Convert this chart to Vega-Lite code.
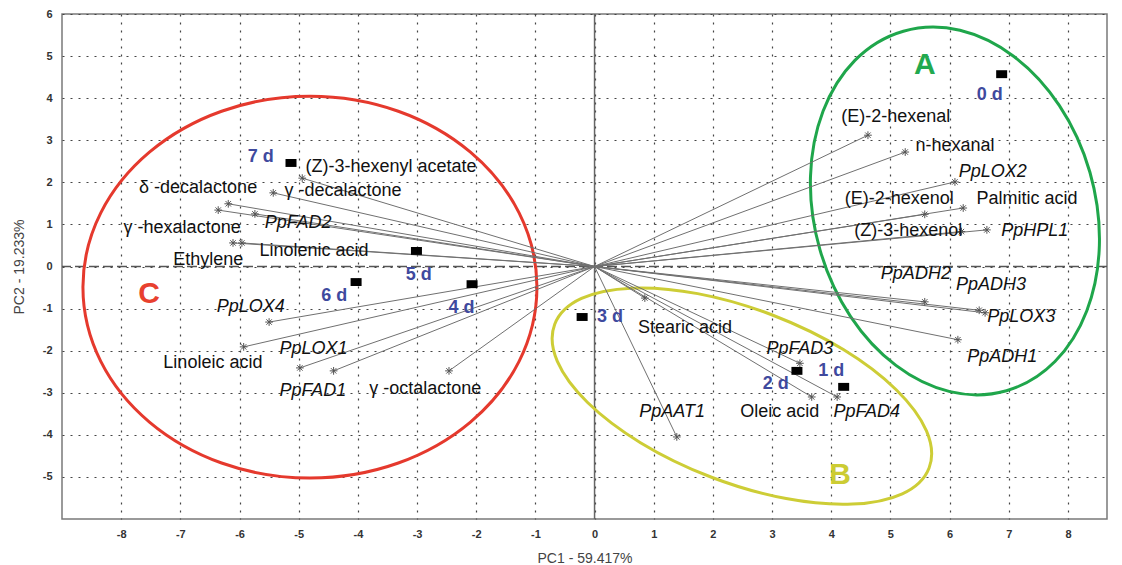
{
  "$schema": "https://vega.github.io/schema/vega-lite/v6.json",
  "width": 1045,
  "height": 505,
  "autosize": {"type": "none"},
  "padding": {"left": 62, "top": 14, "right": 15, "bottom": 46},
  "background": "white",
  "config": {
    "view": {"stroke": "#7a7a7a", "strokeWidth": 1.5},
    "font": "Liberation Sans"
  },
  "datasets": {
    "vars": [
      {"name": "(E)-2-hexenal", "x": 4.62, "y": 3.12},
      {"name": "n-hexanal", "x": 5.25, "y": 2.72},
      {"name": "PpLOX2", "x": 6.09, "y": 2.01},
      {"name": "Palmitic acid", "x": 6.23, "y": 1.39},
      {"name": "(E)-2-hexenol", "x": 5.58, "y": 1.24},
      {"name": "(Z)-3-hexenol", "x": 6.2, "y": 0.83},
      {"name": "PpHPL1", "x": 6.63, "y": 0.87},
      {"name": "PpADH2", "x": 5.58, "y": -0.84},
      {"name": "PpADH3", "x": 6.5, "y": -1.04},
      {"name": "PpLOX3", "x": 6.6, "y": -1.1},
      {"name": "PpADH1", "x": 6.14, "y": -1.74},
      {"name": "Stearic acid", "x": 0.85, "y": -0.75},
      {"name": "PpFAD3", "x": 3.47, "y": -2.3},
      {"name": "Oleic acid", "x": 3.67, "y": -3.1},
      {"name": "PpFAD4", "x": 4.1, "y": -3.1},
      {"name": "PpAAT1", "x": 1.39, "y": -4.05},
      {"name": "(Z)-3-hexenyl acetate", "x": -4.94, "y": 2.1},
      {"name": "γ-decalactone", "x": -5.43, "y": 1.75},
      {"name": "δ-decalactone", "x": -6.19, "y": 1.49},
      {"name": "γ-hexalactone", "x": -6.36, "y": 1.34},
      {"name": "PpFAD2", "x": -5.74, "y": 1.25},
      {"name": "Linolenic acid", "x": -5.96, "y": 0.56},
      {"name": "Ethylene", "x": -6.11, "y": 0.56},
      {"name": "PpLOX4", "x": -5.5, "y": -1.32},
      {"name": "Linoleic acid", "x": -5.93, "y": -1.91},
      {"name": "PpLOX1", "x": -4.98, "y": -2.41},
      {"name": "PpFAD1", "x": -4.41, "y": -2.48},
      {"name": "γ-octalactone", "x": -2.46, "y": -2.48}
    ],
    "samples": [
      {"day": "0 d", "x": 6.88, "y": 4.57},
      {"day": "1 d", "x": 4.21, "y": -2.86},
      {"day": "2 d", "x": 3.42, "y": -2.48},
      {"day": "3 d", "x": -0.21, "y": -1.2},
      {"day": "4 d", "x": -2.07, "y": -0.42},
      {"day": "5 d", "x": -3.01, "y": 0.37},
      {"day": "6 d", "x": -4.03, "y": -0.37},
      {"day": "7 d", "x": -5.13, "y": 2.46}
    ],
    "groups": [
      {"group": "A", "x": 6.09, "y": 1.32},
      {"group": "B", "x": 2.49, "y": -3.08},
      {"group": "C", "x": -4.81, "y": -0.49}
    ],
    "labels": [
      {"text": "(E)-2-hexenal", "kind": "compound", "x": 5.09, "y": 3.55},
      {"text": "n-hexanal", "kind": "compound", "x": 6.09, "y": 2.86},
      {"text": "(E)-2-hexenol", "kind": "compound", "x": 5.15, "y": 1.6},
      {"text": "Palmitic acid", "kind": "compound", "x": 7.31, "y": 1.6},
      {"text": "(Z)-3-hexenol", "kind": "compound", "x": 5.3, "y": 0.84},
      {"text": "Stearic acid", "kind": "compound", "x": 1.53, "y": -1.46},
      {"text": "Oleic acid", "kind": "compound", "x": 3.13, "y": -3.46},
      {"text": "(Z)-3-hexenyl acetate", "kind": "compound", "x": -3.44, "y": 2.36},
      {"text": "δ -decalactone", "kind": "compound", "x": -6.7, "y": 1.87},
      {"text": "γ -decalactone", "kind": "compound", "x": -4.25, "y": 1.79},
      {"text": "γ -hexalactone", "kind": "compound", "x": -6.97, "y": 0.92},
      {"text": "Linolenic acid", "kind": "compound", "x": -4.74, "y": 0.37},
      {"text": "Ethylene", "kind": "compound", "x": -6.53, "y": 0.15},
      {"text": "Linoleic acid", "kind": "compound", "x": -6.45, "y": -2.29},
      {"text": "γ -octalactone", "kind": "compound", "x": -2.86, "y": -2.91},
      {"text": "PpLOX2", "kind": "gene", "x": 6.73, "y": 2.25},
      {"text": "PpHPL1", "kind": "gene", "x": 7.44, "y": 0.84},
      {"text": "PpADH2", "kind": "gene", "x": 5.43, "y": -0.18},
      {"text": "PpADH3", "kind": "gene", "x": 6.7, "y": -0.45},
      {"text": "PpLOX3", "kind": "gene", "x": 7.21, "y": -1.2},
      {"text": "PpADH1", "kind": "gene", "x": 6.89, "y": -2.15},
      {"text": "PpFAD3", "kind": "gene", "x": 3.47, "y": -1.96},
      {"text": "PpFAD4", "kind": "gene", "x": 4.6, "y": -3.46},
      {"text": "PpAAT1", "kind": "gene", "x": 1.31, "y": -3.46},
      {"text": "PpFAD2", "kind": "gene", "x": -5.01, "y": 1.03},
      {"text": "PpLOX4", "kind": "gene", "x": -5.81, "y": -0.96},
      {"text": "PpLOX1", "kind": "gene", "x": -4.75, "y": -1.96},
      {"text": "PpFAD1", "kind": "gene", "x": -4.76, "y": -2.96},
      {"text": "0 d", "kind": "day", "x": 6.68, "y": 4.07},
      {"text": "1 d", "kind": "day", "x": 4.0, "y": -2.48},
      {"text": "2 d", "kind": "day", "x": 3.06, "y": -2.79},
      {"text": "3 d", "kind": "day", "x": 0.26, "y": -1.2},
      {"text": "4 d", "kind": "day", "x": -2.25, "y": -0.99},
      {"text": "5 d", "kind": "day", "x": -2.97, "y": -0.2},
      {"text": "6 d", "kind": "day", "x": -4.4, "y": -0.7},
      {"text": "7 d", "kind": "day", "x": -5.64, "y": 2.6},
      {"text": "A", "kind": "group", "x": 5.58, "y": 4.79},
      {"text": "B", "kind": "group", "x": 4.15, "y": -4.95},
      {"text": "C", "kind": "group", "x": -7.53, "y": -0.66}
    ]
  },
  "layer": [
    {
      "data": {"name": "groups"},
      "mark": {"type": "point", "opacity": 0},
      "encoding": {
        "x": {
          "field": "x", "type": "quantitative",
          "scale": {"domain": [-9, 8.66], "nice": false, "zero": false},
          "axis": {
            "title": "PC1 - 59.417%",
            "values": [-8, -7, -6, -5, -4, -3, -2, -1, 0, 1, 2, 3, 4, 5, 6, 7, 8],
            "labelExpr": "'' + datum.value",
            "domain": false, "ticks": false,
            "grid": true, "gridDash": [2, 6], "gridColor": "#444", "gridWidth": 1.2,
            "labelFontSize": 11, "labelFontWeight": "bold", "labelColor": "#333", "labelPadding": 9,
            "titleFontSize": 14, "titleFontWeight": "normal", "titleColor": "#444", "titlePadding": 12
          }
        },
        "y": {
          "field": "y", "type": "quantitative",
          "scale": {"domain": [-6, 6], "nice": false, "zero": false},
          "axis": {
            "title": "PC2 - 19.233%",
            "values": [-5, -4, -3, -2, -1, 0, 1, 2, 3, 4, 5, 6],
            "labelExpr": "'' + datum.value",
            "domain": false, "ticks": false,
            "grid": true, "gridDash": [2, 6], "gridColor": "#444", "gridWidth": 1.2,
            "labelFontSize": 11, "labelFontWeight": "bold", "labelColor": "#333", "labelPadding": 10,
            "titleFontSize": 14, "titleFontWeight": "normal", "titleColor": "#444", "titlePadding": 16
          }
        }
      }
    },
    {
      "data": {"values": [{"v": 0}]},
      "mark": {"type": "rule", "color": "#555", "strokeWidth": 1.5, "strokeDash": [10, 4]},
      "encoding": {"y": {"datum": 0}}
    },
    {
      "data": {"values": [{"v": 0}]},
      "mark": {"type": "rule", "color": "#666", "strokeWidth": 1.5},
      "encoding": {"x": {"datum": 0}}
    },
    {
      "data": {"name": "groups"},
      "transform": [{"filter": "datum.group === 'C'"}],
      "mark": {"type": "point", "filled": false, "stroke": "#e5392d", "strokeWidth": 3, "opacity": 1,
               "shape": "M -1 0 A 1 0.841 0 1 1 1 0 A 1 0.841 0 1 1 -1 0 Z", "size": 206116},
      "encoding": {"x": {"field": "x", "type": "quantitative"}, "y": {"field": "y", "type": "quantitative"}}
    },
    {
      "data": {"name": "groups"},
      "transform": [{"filter": "datum.group === 'A'"}],
      "mark": {"type": "point", "filled": false, "stroke": "#1fa64b", "strokeWidth": 3, "opacity": 1,
               "shape": "M 0 -1 A 0.751 1 0 1 1 0 1 A 0.751 1 0 1 1 0 -1 Z", "size": 139876, "angle": -16},
      "encoding": {"x": {"field": "x", "type": "quantitative"}, "y": {"field": "y", "type": "quantitative"}}
    },
    {
      "data": {"name": "groups"},
      "transform": [{"filter": "datum.group === 'B'"}],
      "mark": {"type": "point", "filled": false, "stroke": "#cdcd36", "strokeWidth": 3, "opacity": 1,
               "shape": "M -1 0 A 1 0.432 0 1 1 1 0 A 1 0.432 0 1 1 -1 0 Z", "size": 160801, "angle": 21},
      "encoding": {"x": {"field": "x", "type": "quantitative"}, "y": {"field": "y", "type": "quantitative"}}
    },
    {
      "data": {"name": "vars"},
      "mark": {"type": "rule", "color": "#707070", "strokeWidth": 1},
      "encoding": {
        "x": {"field": "x", "type": "quantitative"},
        "y": {"field": "y", "type": "quantitative"},
        "x2": {"datum": 0},
        "y2": {"datum": 0}
      }
    },
    {
      "data": {"name": "vars"},
      "mark": {"type": "point", "filled": false, "stroke": "#555", "strokeWidth": 1, "opacity": 1,
               "shape": "M -1 0 L 1 0 M 0 -1 L 0 1 M -0.7 -0.7 L 0.7 0.7 M -0.7 0.7 L 0.7 -0.7", "size": 60},
      "encoding": {"x": {"field": "x", "type": "quantitative"}, "y": {"field": "y", "type": "quantitative"}}
    },
    {
      "data": {"name": "samples"},
      "mark": {"type": "point", "filled": true, "color": "#000", "opacity": 1,
               "shape": "M -1 -0.72 L 1 -0.72 L 1 0.72 L -1 0.72 Z", "size": 121},
      "encoding": {"x": {"field": "x", "type": "quantitative"}, "y": {"field": "y", "type": "quantitative"}}
    },
    {
      "data": {"name": "labels"},
      "transform": [{"filter": "datum.kind === 'compound'"}],
      "mark": {"type": "text", "fontSize": 18, "color": "#111", "align": "center", "baseline": "middle"},
      "encoding": {
        "x": {"field": "x", "type": "quantitative"},
        "y": {"field": "y", "type": "quantitative"},
        "text": {"field": "text"}
      }
    },
    {
      "data": {"name": "labels"},
      "transform": [{"filter": "datum.kind === 'gene'"}],
      "mark": {"type": "text", "fontSize": 18, "fontStyle": "italic", "color": "#111", "align": "center", "baseline": "middle"},
      "encoding": {
        "x": {"field": "x", "type": "quantitative"},
        "y": {"field": "y", "type": "quantitative"},
        "text": {"field": "text"}
      }
    },
    {
      "data": {"name": "labels"},
      "transform": [{"filter": "datum.kind === 'day'"}],
      "mark": {"type": "text", "fontSize": 18, "fontWeight": "bold", "color": "#3f4a9e", "align": "center", "baseline": "middle"},
      "encoding": {
        "x": {"field": "x", "type": "quantitative"},
        "y": {"field": "y", "type": "quantitative"},
        "text": {"field": "text"}
      }
    },
    {
      "data": {"name": "labels"},
      "transform": [{"filter": "datum.kind === 'group'"}],
      "mark": {"type": "text", "fontSize": 30, "fontWeight": "bold", "align": "center", "baseline": "middle"},
      "encoding": {
        "x": {"field": "x", "type": "quantitative"},
        "y": {"field": "y", "type": "quantitative"},
        "text": {"field": "text"},
        "color": {
          "field": "text", "type": "nominal",
          "scale": {"domain": ["A", "B", "C"], "range": ["#22a94f", "#cccc33", "#e8402f"]},
          "legend": null
        }
      }
    }
  ]
}
